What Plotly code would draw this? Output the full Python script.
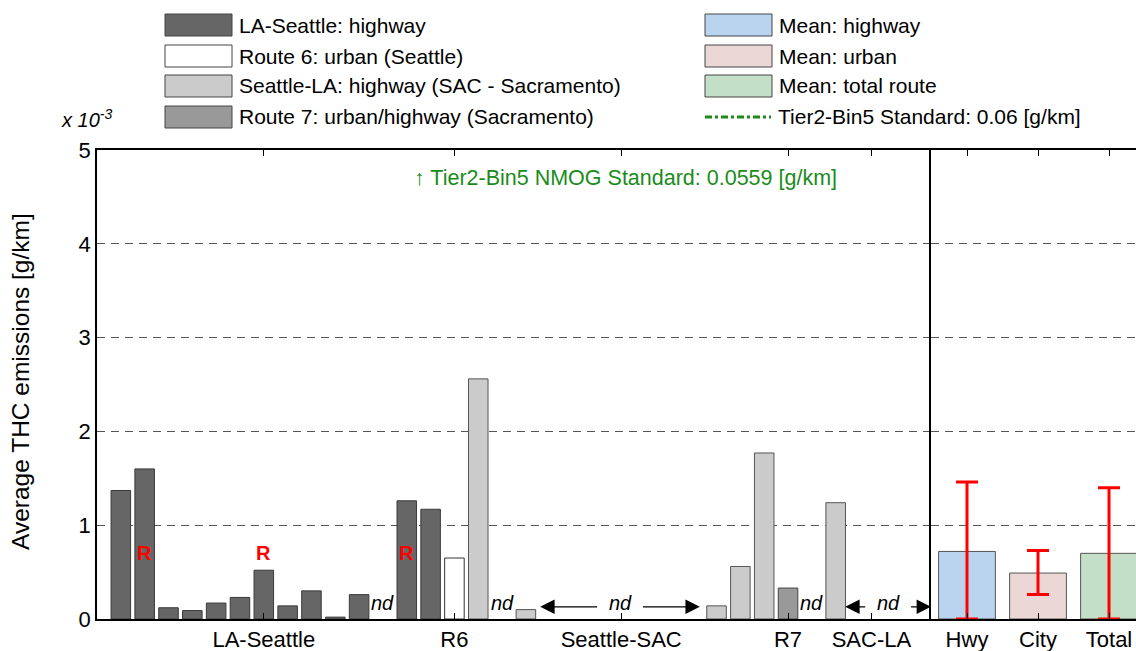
import plotly.graph_objects as go

# THC emissions in units of 1e-3 g/km; slot = bar position along the route axis
la_seattle_slots = [1, 2, 3, 4, 5, 6, 7, 8, 9, 10, 11, 13, 14]
la_seattle_thc = [1.37, 1.60, 0.12, 0.09, 0.17, 0.23, 0.52, 0.14, 0.30, 0.02, 0.26, 1.26, 1.17]
route6_slots = [15]
route6_thc = [0.65]
seattle_la_slots = [16, 18, 26, 27, 28, 31]
seattle_la_thc = [2.56, 0.10, 0.14, 0.56, 1.77, 1.24]
route7_slots = [29]
route7_thc = [0.33]

group_ticks = [7, 15, 22, 29, 32.5]
group_labels = ["LA-Seattle", "R6", "Seattle-SAC", "R7", "SAC-LA"]

mean_labels = ["Hwy", "City", "Total"]
mean_thc = [0.72, 0.49, 0.70]
mean_err_up = [0.74, 0.24, 0.70]
mean_err_down = [0.72, 0.23, 0.70]

r_slots = [2, 7, 13]          # bars marked "R"
nd_slots = [12, 17, 30]       # single slots with no data
nd_spans = [(18.6, 25.3), (31.4, 35.0)]   # ranges with no data (arrows)

W, H = 1136, 651
L, R, T, B = 97, 0, 150, 32
FONT = "Arial, 'Liberation Sans', sans-serif"

DARK, WHITE, LIGHT, MID = "#666666", "#ffffff", "#cbcbcb", "#999999"
BLUE, PINK, GREEN = "#bad4ef", "#ead7d6", "#c4dfc8"
STD_GREEN = "#1a8c1a"


def pxx(p):
    return (p - L) / (W - L - R)


def pxy(p):
    return (H - B - p) / (H - T - B)


split = pxx(931)

fig = go.Figure()


def route_bar(slots, vals, fill, edge):
    fig.add_trace(go.Bar(x=slots, y=vals, width=0.82, marker_color=fill,
                         marker_line=dict(color=edge, width=1),
                         xaxis="x", yaxis="y", showlegend=False))


route_bar(la_seattle_slots, la_seattle_thc, DARK, "#3a3a3a")
route_bar(route6_slots, route6_thc, WHITE, "#333333")
route_bar(seattle_la_slots, seattle_la_thc, LIGHT, "#555555")
route_bar(route7_slots, route7_thc, MID, "#444444")

fig.add_trace(go.Bar(
    x=mean_labels, y=mean_thc, width=0.8,
    marker_color=[BLUE, PINK, GREEN], marker_line=dict(color="#555555", width=1),
    error_y=dict(type="data", array=mean_err_up, arrayminus=mean_err_down,
                 color="#ff0000", thickness=3, width=11),
    xaxis="x2", yaxis="y2", showlegend=False))


def text(x, y, s, size, color="black", ref="data", **kw):
    r = ("x", "y") if ref == "data" else ("paper", "paper")
    d = dict(x=x, y=y, xref=r[0], yref=r[1], text=s, showarrow=False,
             xanchor="center", yanchor="middle",
             font=dict(size=size, color=color, family=FONT))
    d.update(kw)
    return d


ann = []
for s in r_slots:
    ann.append(text(s, 0.70, "<b>R</b>", 20, "#ff0000"))
for s in nd_slots:
    ann.append(text(s, 0.17, "<i>nd</i>", 20))
for a, b in nd_spans:
    mid = (a + b) / 2
    ann.append(text(mid, 0.17, "<i>nd</i>", 20))
    for head, tail in ((a, mid - 0.9), (b, mid + 0.9)):
        ann.append(dict(x=head, y=0.13, ax=tail, ay=0.13, xref="x", yref="y",
                        axref="x", ayref="y", text="", showarrow=True,
                        arrowhead=2, arrowsize=2.4, arrowwidth=1.2, arrowcolor="black"))

ann.append(text(22.2, 4.70, "\u2191 Tier2-Bin5 NMOG Standard: 0.0559 [g/km]", 21.5, STD_GREEN))
ann.append(text(pxx(86), pxy(118), "<i>x 10<sup>-3</sup></i>", 20, ref="paper"))
ann.append(text(pxx(20), pxy(382), "Average THC emissions [g/km]", 24.5, ref="paper",
                textangle=-90))

# legend, drawn by hand as two columns of wide swatches
legend_left = [("LA-Seattle: highway", DARK), ("Route 6: urban (Seattle)", WHITE),
               ("Seattle-LA: highway (SAC - Sacramento)", LIGHT),
               ("Route 7: urban/highway (Sacramento)", MID)]
legend_right = [("Mean: highway", BLUE), ("Mean: urban", PINK), ("Mean: total route", GREEN)]
row_y = [25, 56, 86, 117]
shapes = []
for col_x, entries in ((165, legend_left), (705, legend_right)):
    for (label, col), yc in zip(entries, row_y):
        shapes.append(dict(type="rect", xref="paper", yref="paper",
                           x0=pxx(col_x), x1=pxx(col_x + 67),
                           y0=pxy(yc - 11), y1=pxy(yc + 11), fillcolor=col,
                           line=dict(color="#444444", width=1)))
        ann.append(text(pxx(col_x + 72), pxy(yc), label, 21, ref="paper", xanchor="left"))
shapes.append(dict(type="line", xref="paper", yref="paper", x0=pxx(705), x1=pxx(771),
                   y0=pxy(row_y[3]), y1=pxy(row_y[3]),
                   line=dict(color=STD_GREEN, width=3, dash="7px,3px,3px,3px")))
ann.append(text(pxx(776), pxy(row_y[3]), "Tier2-Bin5 Standard: 0.06 [g/km]", 21,
                ref="paper", xanchor="left"))

grid = dict(showgrid=True, gridcolor="#555555", gridwidth=1, griddash="8px,6px",
            range=[0, 5], tickvals=[0, 1, 2, 3, 4, 5], zeroline=False,
            showline=True, linecolor="black", linewidth=1.5)
xcommon = dict(showgrid=False, zeroline=False, showline=True, linecolor="black", linewidth=1.5,
               ticks="inside", ticklen=6, tickcolor="black", mirror="ticks",
               tickfont=dict(size=22, color="black", family=FONT))

fig.update_layout(
    width=W, height=H, margin=dict(l=L, r=R, t=T, b=B),
    paper_bgcolor="white", plot_bgcolor="white", barmode="overlay",
    showlegend=False,
    xaxis=dict(domain=[0, split], range=[0, 35], tickvals=group_ticks,
               ticktext=group_labels, anchor="y", **xcommon),
    xaxis2=dict(domain=[split, 1], type="category", range=[-0.507, 2.38],
                anchor="y2", **xcommon),
    yaxis=dict(anchor="x", ticks="", tickfont=dict(size=22, color="black", family=FONT),
               **grid),
    yaxis2=dict(anchor="x2", matches="y", showticklabels=False, ticks="", **grid),
    annotations=ann, shapes=shapes,
)

fig.write_html("out.html", config={"displayModeBar": False},
               post_script="document.body.style.margin='0';"
                           "document.body.style.overflow='hidden';")
